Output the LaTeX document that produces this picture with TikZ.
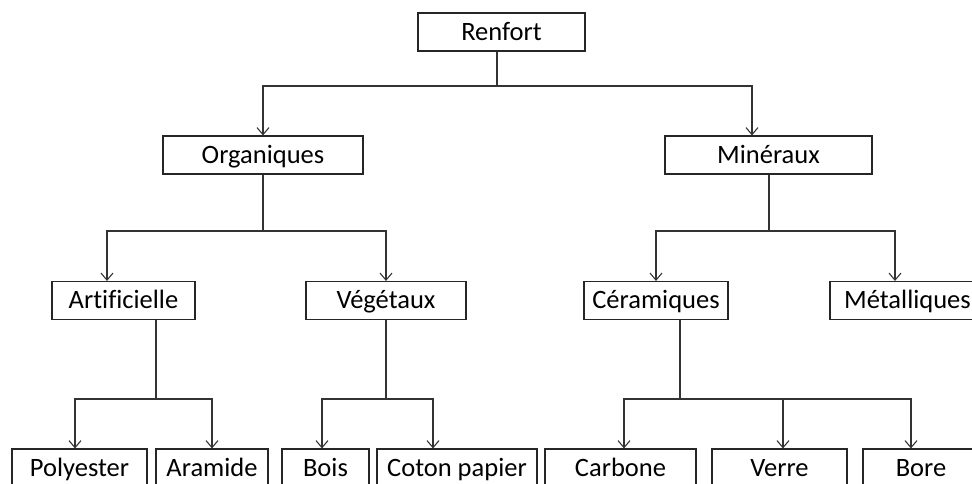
\documentclass[tikz,border=0pt]{standalone}
\usepackage{fontspec}
\setmainfont[Ligatures=NoCommon]{Carlito}
\usepackage{tikz}
\usetikzlibrary{arrows.meta,positioning}
\tikzset{%
	box/.style      = {draw=black!85, line width=1.1pt, rectangle, minimum height=38pt, inner sep=0pt, text height=22pt, text depth=5.3pt, text centered, font=\fontsize{26.5}{30}\selectfont},
	waypoint/.style = {coordinate},
	arrow/.style    = {line width=1.1pt, draw=black!80, -{Straight Barb[length=7pt,width=12pt]}},
	link/.style     = {line width=1.1pt, draw=black!80},
}

\begin{document}
\begin{tikzpicture}
	\useasboundingbox (-501.5pt,32pt) rectangle (470.5pt,-452pt);
	\clip (-501.5pt,32pt) rectangle (470.5pt,-452pt);

	% racine et premier niveau
	\node [box,minimum width=167pt] (renfort) {Renfort};
	\node [box,minimum width=200pt] (org) [below of=renfort,node distance=123pt,xshift=-238.5pt] {Organiques};
	\node [box,minimum width=207pt] (min) [right of=org,node distance=505.5pt] {Minéraux};

	% deuxieme niveau
	\node [box,minimum width=143pt] (art) [below of=org,node distance=145.5pt,xshift=-139.5pt] {Artificielle};
	\node [box,minimum width=160pt] (veg) [right of=art,node distance=262.5pt] {Végétaux};
	\node [box,minimum width=144pt] (cer) [right of=veg,node distance=270pt] {Céramiques};
	\node [box,minimum width=155pt] (met) [right of=cer,node distance=251.5pt] {Métalliques};

	% troisieme niveau
	\node [box,minimum width=135pt] (poly) [below of=art,node distance=167.5pt,xshift=-44pt] {Polyester};
	\node [box,minimum width=112pt] (ara) [right of=poly,node distance=132.5pt] {Aramide};
	\node [box,minimum width=87pt] (bois) [right of=ara,node distance=113.5pt] {Bois};
	\node [box,minimum width=160pt] (coton) [right of=bois,node distance=131.5pt] {Coton papier};
	\node [box,minimum width=151pt] (carb) [right of=coton,node distance=163.5pt] {Carbone};
	\node [box,minimum width=135pt] (verre) [right of=carb,node distance=159pt] {Verre};
	\node [box,minimum width=116pt] (bore) [right of=verre,node distance=141.5pt] {Bore};

	% points de branchement
	\node [waypoint] (j0) [below of=renfort,node distance=54pt,xshift=-4.5pt] {};
	\node [waypoint] (j1a) [below of=org,node distance=76pt] {};
	\node [waypoint] (j1b) [below of=min,node distance=76pt,xshift=0.5pt] {};
	\node [waypoint] (j2a) [below of=art,node distance=98.5pt,xshift=32.5pt] {};
	\node [waypoint] (j2b) [below of=veg,node distance=98.5pt] {};
	\node [waypoint] (j2c) [below of=cer,node distance=98.5pt,xshift=24pt] {};

	\draw[link] (renfort.south -| j0) -- (j0);
	\draw[arrow] (j0) -| (org.north);
	\draw[arrow] (j0) -| ([xshift=-16.5pt]min.north);

	\draw[link] (org) -- (j1a);
	\draw[arrow] (j1a) -| ([xshift=-16.5pt]art.north);
	\draw[arrow] (j1a) -| (veg.north);

	\draw[link] (min.south -| j1b) -- (j1b);
	\draw[arrow] (j1b) -| (cer.north);
	\draw[arrow] (j1b) -| ([xshift=-12.5pt]met.north);

	\draw[link] (art.south -| j2a) -- (j2a);
	\draw[arrow] (j2a) -| ([xshift=-4.5pt]poly.north);
	\draw[arrow] (j2a) -| (ara.north);

	\draw[link] (veg) -- (j2b);
	\draw[arrow] (j2b) -| ([xshift=-3.5pt]bois.north);
	\draw[arrow] (j2b) -| ([xshift=-24pt]coton.north);

	\draw[link] (cer.south -| j2c) -- (j2c);
	\draw[arrow] (j2c) -| ([xshift=3.5pt]carb.north);
	\draw[arrow] (j2c) -| ([xshift=3.5pt]verre.north);
	\draw[arrow] (j2c) -| ([xshift=-10pt]bore.north);
\end{tikzpicture}
\end{document}
